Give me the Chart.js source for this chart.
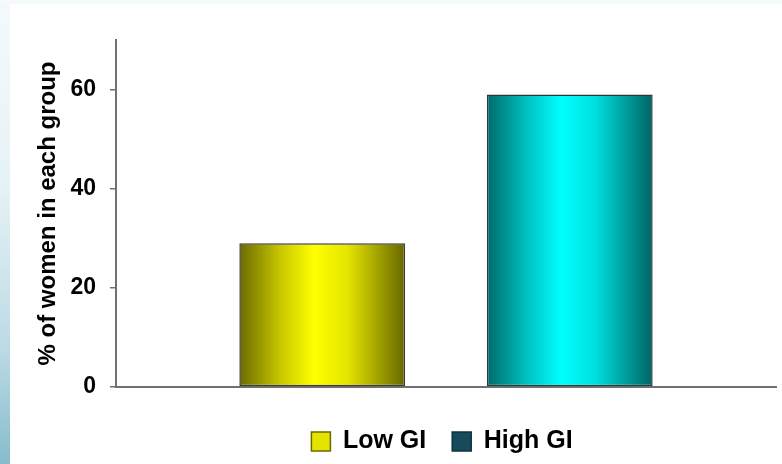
<!DOCTYPE html>
<html>
<head>
<meta charset="utf-8">
<script src="https://cdn.jsdelivr.net/npm/chart.js@4.4.1/dist/chart.umd.min.js"></script>
<style>
  html, body { margin: 0; padding: 0; background: #ffffff; }
  #wrap { position: relative; width: 782px; height: 464px; overflow: hidden; background: #ffffff; }
  #leftStrip { position: absolute; left: 0; top: 0; width: 10px; height: 464px;
    background: linear-gradient(to bottom, #f4fafc 0%, #e6f2f6 40%, #bcdbe5 75%, #86bccb 100%); }
  #topStrip { position: absolute; left: 0; top: 0; width: 782px; height: 4px; background: #f5fafc; }
  canvas { position: absolute; left: 0; top: 0; }
</style>
</head>
<body>
<div id="wrap">
  <div id="leftStrip"></div>
  <div id="topStrip"></div>
  <canvas id="c" width="782" height="464"></canvas>
</div>
<script>
const categories = [""];
const seriesNames = ["Low GI", "High GI"];
const lowGI = [29];
const highGI = [59];
const yTicks = [0, 20, 40, 60];
const yMax = 70;
const yTitle = "% of women in each group";

const CAT_PCT = 0.75;
const BAR_PCT = 0.67;

function barGradient(ctx, dsIndex, stops) {
  const chart = ctx.chart;
  const area = chart.chartArea;
  const xs = chart.scales.x;
  if (!area || !xs) return stops[2][1];
  const center = xs.getPixelForValue(0);
  const catW = (area.right - area.left) * CAT_PCT;
  const slot = catW / 2;
  const barCenter = center - catW / 2 + slot * (dsIndex + 0.5);
  const w = slot * BAR_PCT;
  const g = chart.ctx.createLinearGradient(barCenter - w / 2, 0, barCenter + w / 2, 0);
  stops.forEach(s => g.addColorStop(s[0], s[1]));
  return g;
}

const yellowStops = [[0, "#6a6a00"], [0.25, "#c8c800"], [0.45, "#ffff00"], [0.65, "#e6e600"], [1, "#666600"]];
const cyanStops = [[0, "#006a6a"], [0.25, "#00c4c4"], [0.45, "#00ffff"], [0.65, "#00e0e0"], [1, "#006464"]];

const legendFill = ["#e4e400", "#174a5a"];
const legendStroke = ["#6a6a00", "#0e3340"];

const shiftLegend = {
  id: "shiftLegend",
  afterLayout(chart) {
    const lg = chart.legend;
    if (lg) { lg.left = 102; lg.right = 782; }
  }
};

new Chart(document.getElementById("c"), {
  type: "bar",
  plugins: [shiftLegend],
  data: {
    labels: categories,
    datasets: [
      { label: seriesNames[0], data: lowGI,
        backgroundColor: (ctx) => barGradient(ctx, 0, yellowStops),
        borderColor: "#3a3a3a", borderWidth: 1.5, borderSkipped: false,
        categoryPercentage: CAT_PCT, barPercentage: BAR_PCT },
      { label: seriesNames[1], data: highGI,
        backgroundColor: (ctx) => barGradient(ctx, 1, cyanStops),
        borderColor: "#2a3a3a", borderWidth: 1.5, borderSkipped: false,
        categoryPercentage: CAT_PCT, barPercentage: BAR_PCT }
    ]
  },
  options: {
    responsive: false,
    animation: false,
    layout: { padding: { top: 40, right: 6, bottom: 0, left: 0 } },
    plugins: {
      tooltip: { enabled: false },
      legend: {
        position: "bottom",
        labels: {
          color: "#000",
          font: { family: "'Liberation Sans', Arial, sans-serif", size: 25, weight: "bold" },
          boxWidth: 19, boxHeight: 19, padding: 26,
          generateLabels: (chart) => chart.data.datasets.map((d, i) => ({
            text: d.label, fillStyle: legendFill[i], strokeStyle: legendStroke[i],
            lineWidth: 1.5, hidden: false, datasetIndex: i, fontColor: "#000"
          }))
        }
      }
    },
    scales: {
      x: {
        ticks: { display: false },
        grid: { display: true, drawOnChartArea: false, drawTicks: false },
        border: { display: true, color: "#707070", width: 2 },
        afterFit: (s) => { s.height = 16; }
      },
      y: {
        min: 0, max: yMax,
        afterBuildTicks: (s) => { s.ticks = yTicks.map(v => ({ value: v })); },
        ticks: {
          color: "#000", padding: 14,
          font: { family: "'Liberation Sans', Arial, sans-serif", size: 23, weight: "bold" }
        },
        grid: { drawOnChartArea: false, drawTicks: true, tickLength: 6, color: "#707070", lineWidth: 1.5 },
        border: { display: true, color: "#707070", width: 2 },
        title: {
          display: true, text: yTitle, color: "#000", padding: { top: 34, bottom: 0 },
          font: { family: "'Liberation Sans', Arial, sans-serif", size: 24, weight: "bold" }
        },
        afterFit: (s) => { s.width = 116; }
      }
    }
  }
});
</script>
</body>
</html>
